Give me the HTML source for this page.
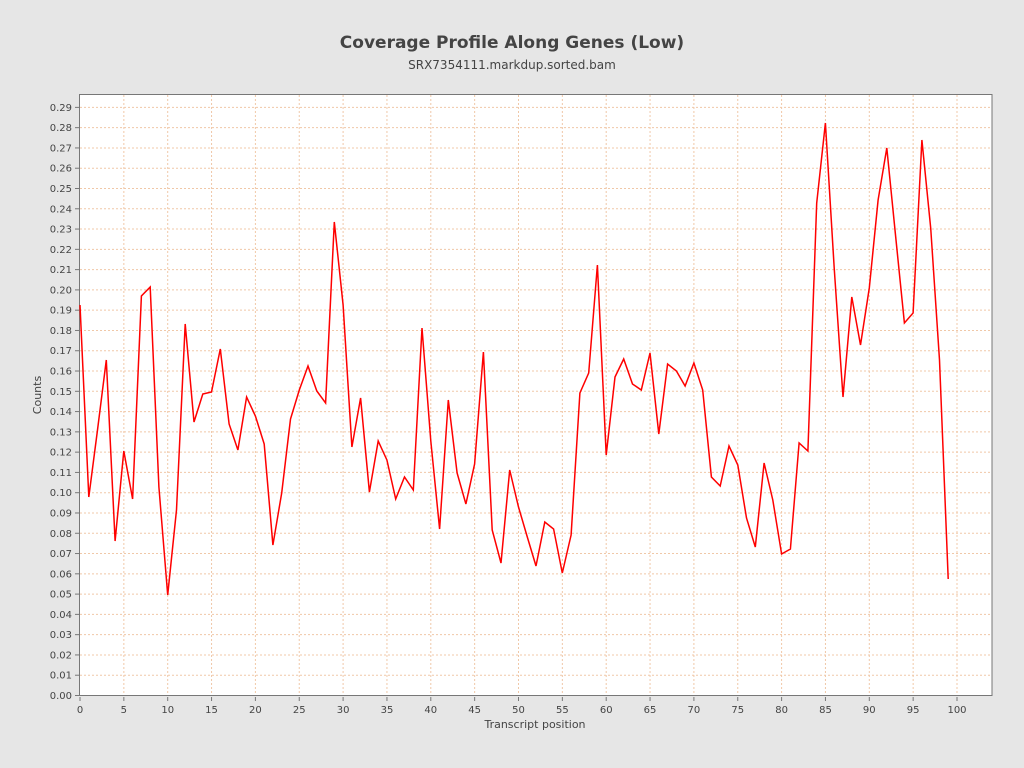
<!DOCTYPE html>
<html><head><style>
html,body{margin:0;padding:0;overflow:hidden;background:#e6e6e6;font-family:"DejaVu Sans","Liberation Sans",sans-serif}
svg{display:block}
</style></head><body>
<svg width="1024" height="768" xmlns="http://www.w3.org/2000/svg" font-family="DejaVu Sans, Liberation Sans, sans-serif">
<rect width="1024" height="768" fill="#e6e6e6"/>
<text x="512" y="48" text-anchor="middle" font-size="17" font-weight="bold" fill="#444">Coverage Profile Along Genes (Low)</text>
<text x="512" y="69" text-anchor="middle" font-size="12" fill="#444">SRX7354111.markdup.sorted.bam</text>
<rect x="79.5" y="94.5" width="912.5" height="601" fill="#fff" stroke="#777"/>
<g id="g" stroke="#f0c8a8" stroke-dasharray="2,2" stroke-width="1"></g>
<g id="t" font-size="10" fill="#444"></g>
<text x="535" y="728" text-anchor="middle" font-size="11" fill="#444">Transcript position</text>
<text transform="translate(41,395) rotate(-90)" text-anchor="middle" font-size="11" fill="#444">Counts</text>
<polyline id="p" fill="none" stroke="#ff0000" stroke-width="1.5"/>
</svg>
<script>
var ns="http://www.w3.org/2000/svg",g=document.getElementById('g'),t=document.getElementById('t');
function el(p,n,a,txt){var e=document.createElementNS(ns,n);for(var k in a)e.setAttribute(k,a[k]);if(txt!==undefined)e.textContent=String(txt);p.appendChild(e);}
for(var i=0;i<=29;i++){var y=695.5-i*20.28;
if(i>0)el(g,'line',{x1:80,x2:992,y1:y,y2:y});
el(t,'line',{x1:75,x2:79,y1:y,y2:y,stroke:'#777'});
el(t,'text',{x:72,y:y+3.5,'text-anchor':'end'},(i/100).toFixed(2));}
for(var i=0;i<=100;i+=5){var x=80+i*8.77;
if(i>0)el(g,'line',{x1:x,x2:x,y1:95,y2:695});
el(t,'line',{x1:x,x2:x,y1:697,y2:701,stroke:'#777'});
el(t,'text',{x:x,y:713,'text-anchor':'middle'},i);}
var ys=[305,497,430,360,541,451,499,296,287,487,595,510,324,422,394,392,349,424,450,397,416,444,545,493,419,390,366,391,403,222,305,447,398,492,441,460,499,477,490,328,441,529,400,473,504,464,352,530,563,470,507,537,566,522,529,573,535,393,373,265,455,377,359,384,390,353,434,364,371,386,363,390,477,486,446,465,518,547,463,500,554,549,443,451,203,123,268,397,297,345,288,200,148,236,323,313,140,228,360,579];
document.getElementById('p').setAttribute('points',ys.map(function(y,i){return (80+i*8.77).toFixed(1)+','+y}).join(' '));
</script>
</body></html>
